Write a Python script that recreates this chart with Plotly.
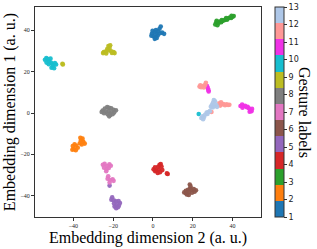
import plotly.graph_objects as go

# Gesture label per cluster and hand-read embedding coordinates
g1_x = [-0.5, 0.3, 1.2, 0.8, 1.8, -0.2, 2.4, 1.5, 2.6, 3.3, 3.9, 3.5, 4.6, 5.6, 0.9, 1.9, -0.8]
g1_y = [38.5, 37.2, 36.6, 39.2, 38.3, 39.8, 37.5, 40.1, 39.6, 40.8, 41.9, 38.6, 38.9, 38.3, 35.9, 36.3, 37.4]

g2_x = [-40.3, -39.4, -38.6, -39.8, -38.8, -40.5, -37.8, -36.8, -36.2, -35.4, -35.0, -34.3, -35.8, -36.5]
g2_y = [-16.0, -15.1, -15.8, -17.4, -18.0, -17.8, -16.8, -14.6, -13.2, -12.4, -13.9, -14.8, -15.2, -12.0]

g3_x = [31.3, 31.8, 32.4, 33.0, 33.6, 34.3, 35.0, 35.8, 36.5, 37.2, 37.9, 38.6, 39.3, 40.0, 40.6, 32.0, 34.6, 36.8, 39.5]
g3_y = [42.8, 43.9, 42.5, 43.6, 44.3, 43.9, 44.6, 44.9, 45.3, 45.1, 45.8, 46.2, 46.0, 46.6, 46.9, 44.6, 45.0, 46.0, 47.1]

g4_x = [0.3, 1.0, 1.6, 2.6, 3.3, 3.9, 4.3, 3.0, 4.7, 3.5, 2.4, 1.1, 7.4, 7.0]
g4_y = [-27.2, -26.3, -27.8, -26.0, -25.1, -24.7, -25.9, -27.3, -27.6, -28.6, -29.0, -28.2, -29.5, -29.2]

g5_x = [-21.8, -20.5, -20.9, -19.7, -18.6, -17.3, -16.6, -17.1, -18.4, -19.3, -18.5, -17.6, -19.6]
g5_y = [-35.1, -40.8, -41.9, -42.2, -42.7, -42.6, -43.5, -44.7, -44.5, -45.2, -46.1, -45.6, -43.8]

g6_x = [18.5, 18.9, 18.6, 17.6, 16.5, 15.7, 16.6, 17.8, 19.4, 20.5, 21.6, 20.9, 19.6, 18.0, 17.0]
g6_y = [-34.6, -35.5, -36.6, -37.1, -37.6, -38.4, -38.8, -38.3, -37.2, -36.8, -37.4, -38.1, -38.6, -39.6, -39.4]

g7_x = [-25.2, -24.3, -23.0, -21.9, -21.2, -24.6, -23.3, -22.2, -23.5, -22.5, -22.8, -21.6, -20.3, -19.8, -21.8]
g7_y = [-25.0, -24.6, -25.6, -24.8, -25.5, -26.5, -27.2, -26.6, -28.2, -30.6, -31.8, -32.4, -32.0, -32.8, -33.6]

g8_x = [-25.3, -24.2, -23.0, -22.0, -21.0, -19.8, -18.6, -19.5, -21.0, -22.3, -23.6, -24.6, -22.8, -21.5, -20.3, -25.8, -22.0]
g8_y = [1.2, 2.2, 2.9, 2.5, 2.3, 1.6, 1.3, 0.2, 0.4, 0.9, 0.6, -0.1, -0.6, -1.0, -0.6, 0.5, -1.6]

g9_x = [-45.5, -45.3, -22.4, -21.5, -21.8, -23.0, -24.7, -25.1, -23.8, -22.5, -21.0, -19.8, -19.3, -20.6, -23.5]
g9_y = [23.8, 23.5, 32.4, 32.8, 31.5, 31.0, 29.5, 29.0, 29.7, 30.3, 29.9, 29.5, 29.0, 29.1, 28.8]

g10_x = [-53.6, -54.3, -52.9, -51.5, -52.2, -51.2, -53.5, -50.5, -49.3, -48.7, -50.2, -51.0, -49.7, -52.4, 23.0]
g10_y = [26.6, 25.8, 26.1, 26.3, 25.0, 24.3, 24.4, 23.6, 24.2, 23.5, 22.6, 21.9, 21.7, 23.6, -0.5]

g11_x = [27.2, 27.6, 27.9, 28.0, 44.0, 44.8, 45.5, 46.3, 47.1, 47.6, 48.2, 48.9, 49.5, 48.6, 49.8, 45.0]
g11_y = [13.0, 12.0, 11.0, 10.4, 3.4, 4.1, 3.3, 3.5, 2.8, 3.0, 2.3, 1.6, 0.9, 0.6, 2.0, 2.6]

g12_x = [23.4, 24.2, 25.0, 25.6, 26.2, 26.6, 23.8, 33.3, 33.8, 34.6, 35.4, 36.2, 37.0, 37.8, 38.4, 34.2, 29.4]
g12_y = [12.8, 12.5, 13.1, 12.4, 13.6, 14.6, 13.4, 4.7, 3.6, 4.1, 4.4, 3.8, 4.2, 3.9, 4.0, 5.2, 0.5]

g13_x = [30.6, 31.2, 30.2, 29.7, 29.1, 30.0, 30.8, 31.8, 32.2, 24.3, 24.8, 25.6, 26.2, 27.0, 27.8, 28.6, 25.2, 27.4]
g13_y = [6.3, 5.7, 5.1, 4.0, 3.1, 2.7, 3.3, 3.9, 3.0, -2.4, -1.6, -2.0, -0.8, 0.2, 0.5, 0.9, -3.0, -0.5]

clusters_x = [g1_x, g2_x, g3_x, g4_x, g5_x, g6_x, g7_x, g8_x, g9_x, g10_x, g11_x, g12_x, g13_x]
clusters_y = [g1_y, g2_y, g3_y, g4_y, g5_y, g6_y, g7_y, g8_y, g9_y, g10_y, g11_y, g12_y, g13_y]

label_ticks = list(range(1, 14))
axis_ticks = [-40, -20, 0, 20, 40]
label_colors = ["#1f77b4", "#ff7f0e", "#2ca02c", "#d62728", "#9467bd", "#8c564b",
                "#e377c2", "#7f7f7f", "#bcbd22", "#17becf", "#f032e6", "#ff9896", "#aec7e8"]

xs, ys, labs = [], [], []
for lab, cx, cy in zip(label_ticks, clusters_x, clusters_y):
    xs += cx
    ys += cy
    labs += [lab] * len(cx)

n = len(label_colors)
cscale = []
for i, c in enumerate(label_colors):
    cscale.append([i / n, c])
    cscale.append([(i + 1) / n, c])

serif = "Liberation Serif, Times New Roman, serif"

fig = go.Figure(go.Scatter(
    x=xs, y=ys, mode="markers",
    marker=dict(
        color=labs, colorscale=cscale, cmin=1, cmax=13, size=4.6, opacity=0.95,
        line=dict(width=0),
        colorbar=dict(
            x=1.062, xanchor="left", y=0.5, yanchor="middle", len=1, lenmode="fraction",
            thickness=9, thicknessmode="pixels",
            tickvals=label_ticks, ticks="outside", ticklen=3, tickwidth=0.8, tickcolor="#333",
            tickfont=dict(family="DejaVu Sans", size=8, color="#222"),
            outlinewidth=1, outlinecolor="#333",
            xpad=0, ypad=0,
        ),
    ),
    showlegend=False,
))

axis_common = dict(
    showgrid=False, zeroline=False, showline=True, linecolor="#333", linewidth=1,
    mirror=True, ticks="outside", ticklen=3, tickwidth=0.8, tickcolor="#333",
    tickfont=dict(family=serif, size=6, color="#222"), automargin=False,
)

fig.update_layout(
    width=317, height=249,
    margin=dict(l=35, r=56, t=7, b=32, autoexpand=False),
    paper_bgcolor="white", plot_bgcolor="white",
    xaxis=dict(range=[-59.3, 54.3], tickvals=axis_ticks, **axis_common),
    yaxis=dict(range=[-50.3, 51.3], tickvals=axis_ticks, **axis_common),
    annotations=[
        dict(text="Embedding dimension 2 (a. u.)", xref="paper", yref="paper",
             x=0.5, y=-0.1, xanchor="center", yanchor="middle", showarrow=False,
             borderpad=0, font=dict(family=serif, size=16, color="#000")),
        dict(text="Embedding dimension 1 (a. u.)", xref="paper", yref="paper",
             x=-0.11, y=0.5, xanchor="center", yanchor="middle", showarrow=False,
             borderpad=0, textangle=-90, font=dict(family=serif, size=16, color="#000")),
        dict(text="Gesture labels", xref="paper", yref="paper",
             x=1.195, y=0.5, xanchor="center", yanchor="middle", showarrow=False,
             borderpad=0, textangle=90, font=dict(family=serif, size=16, color="#000")),
    ],
)

fig.write_html(
    "out.html",
    config={"displayModeBar": False},
    post_script="document.body.style.margin='0';document.body.style.padding='0';",
)
